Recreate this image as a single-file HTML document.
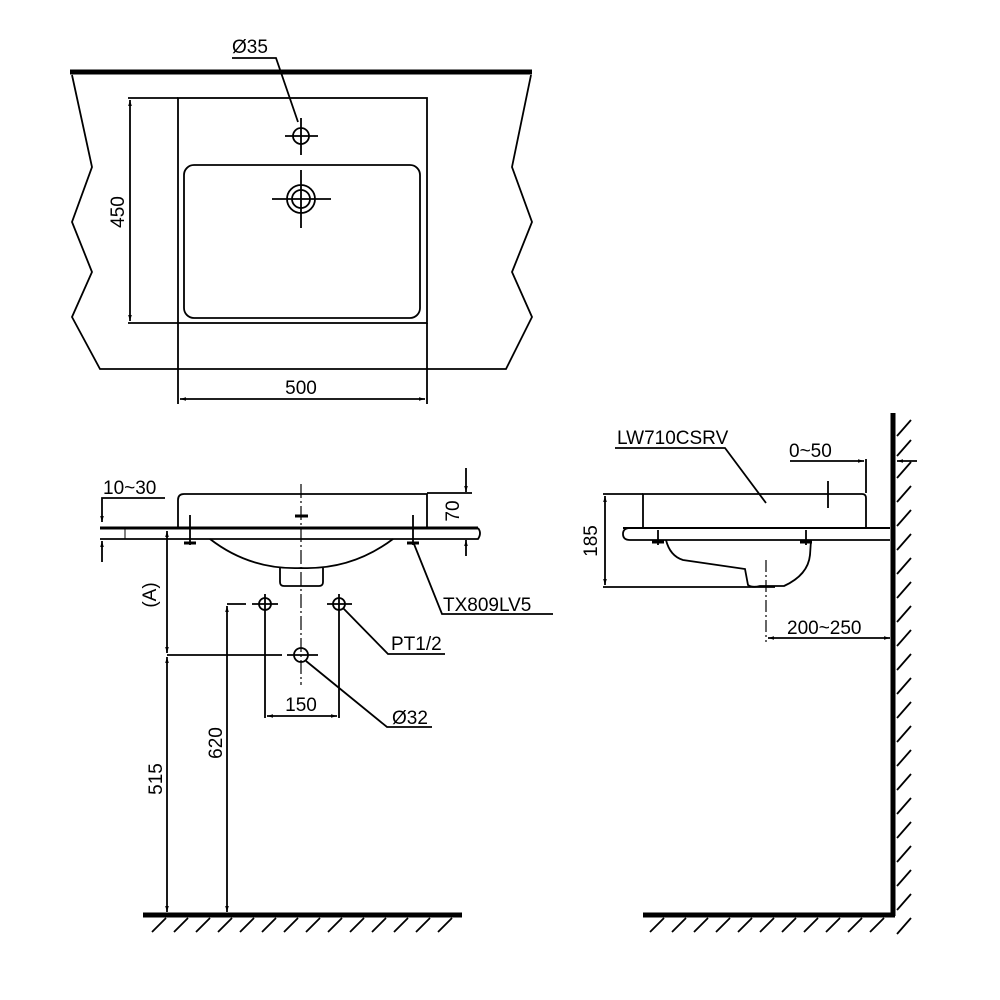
<!DOCTYPE html>
<html><head><meta charset="utf-8"><style>
html,body{margin:0;padding:0;background:#fff}
svg{display:block}
text{font-family:"Liberation Sans",Arial,sans-serif;font-size:19px;fill:#000}
</style></head><body>
<svg width="1000" height="1000" viewBox="0 0 1000 1000" xmlns="http://www.w3.org/2000/svg">
<defs>
<marker id="a" viewBox="0 0 10 10" refX="10" refY="5" markerWidth="8" markerHeight="6" orient="auto-start-reverse" markerUnits="userSpaceOnUse"><path d="M0,2 L10,5 L0,8 z" fill="#000"/></marker>
</defs>
<g stroke="#000" fill="none" stroke-width="1.8">
<!-- TOP VIEW -->
<line x1="70" y1="72" x2="532" y2="72" stroke-width="5"/>
<polyline points="72,75 92,167 72,222 92,272 72,317 100,369 506,369 532,317 512,272 532,222 512,167 531,75"/>
<rect x="178" y="98" width="249" height="225"/>
<line x1="128" y1="98" x2="178" y2="98"/>
<line x1="128" y1="323" x2="178" y2="323"/>
<line x1="130" y1="100" x2="130" y2="321" marker-start="url(#a)" marker-end="url(#a)"/>
<rect x="184" y="165" width="236" height="153" rx="10"/>
<circle cx="301" cy="136" r="8"/>
<line x1="285" y1="136" x2="318" y2="136"/><line x1="301" y1="118" x2="301" y2="155"/>
<polyline points="232,58 276,58 298,122"/>
<circle cx="301" cy="199" r="14"/><circle cx="301" cy="199" r="9"/>
<line x1="272" y1="199" x2="331" y2="199"/><line x1="301" y1="170" x2="301" y2="228"/>
<line x1="178" y1="323" x2="178" y2="404"/><line x1="427" y1="323" x2="427" y2="404"/>
<line x1="180" y1="399" x2="425" y2="399" marker-start="url(#a)" marker-end="url(#a)"/>

<!-- FRONT VIEW -->
<path d="M178,528 V500 Q178,494 184,494 H427 V528"/>
<line x1="100" y1="528" x2="478" y2="528" stroke-width="3"/>
<path d="M100,539 H478 Q482,533 478,528"/>
<line x1="125" y1="528" x2="125" y2="539" stroke-width="1"/>
<path d="M210,539 Q250,570 301,568 Q352,570 393,539"/>
<path d="M280,568 V582 Q280,586 284,586 H319 Q323,586 323,582 V568"/>
<line x1="301" y1="484" x2="301" y2="685" stroke-dasharray="14,3,2,3" stroke-width="1.2"/>
<line x1="295" y1="516" x2="308" y2="516" stroke-width="3"/>
<line x1="190" y1="515" x2="190" y2="545"/><line x1="184" y1="543" x2="196" y2="543" stroke-width="3"/>
<line x1="413" y1="515" x2="413" y2="545"/><line x1="407" y1="543" x2="419" y2="543" stroke-width="3"/>
<polyline points="165,498 102,498 102,522" marker-end="url(#a)"/>
<line x1="102" y1="562" x2="102" y2="541" marker-end="url(#a)"/>
<line x1="427" y1="493" x2="472" y2="493"/>
<line x1="466" y1="468" x2="466" y2="492" marker-end="url(#a)"/>
<line x1="466" y1="556" x2="466" y2="540" marker-end="url(#a)"/>
<polyline points="414,544 442,614 553,614"/>
<line x1="167" y1="531" x2="167" y2="653" marker-start="url(#a)" marker-end="url(#a)"/>
<line x1="167" y1="657" x2="167" y2="912" marker-start="url(#a)" marker-end="url(#a)"/>
<line x1="167" y1="655" x2="282" y2="655"/>
<line x1="287" y1="655" x2="318" y2="655"/>
<circle cx="301" cy="655" r="7"/>
<line x1="227" y1="606" x2="227" y2="912" marker-start="url(#a)" marker-end="url(#a)"/>
<line x1="227" y1="604" x2="246" y2="604"/><line x1="252" y1="604" x2="278" y2="604"/>
<line x1="327" y1="604" x2="352" y2="604"/>
<circle cx="265" cy="604" r="6"/><circle cx="339" cy="604" r="6"/>
<line x1="265" y1="594" x2="265" y2="718"/><line x1="339" y1="594" x2="339" y2="718"/>
<line x1="267" y1="716" x2="337" y2="716" marker-start="url(#a)" marker-end="url(#a)"/>
<polyline points="343,608 388,654 445,654"/>
<polyline points="306,661 387,727 432,727"/>
<line x1="143" y1="915" x2="462" y2="915" stroke-width="5"/>
<path d="M152,932 L166,918 M174,932 L188,918 M196,932 L210,918 M218,932 L232,918 M240,932 L254,918 M262,932 L276,918 M284,932 L298,918 M306,932 L320,918 M328,932 L342,918 M350,932 L364,918 M372,932 L386,918 M394,932 L408,918 M416,932 L430,918 M438,932 L452,918"/>

<!-- SIDE VIEW -->
<line x1="893" y1="413" x2="893" y2="916" stroke-width="5"/>
<line x1="643" y1="915" x2="895" y2="915" stroke-width="5"/>
<path d="M897,436 L911,420 M897,456 L911,440 M897,478 L911,462 M897,502 L911,486 M897,526 L911,510 M897,550 L911,534 M897,574 L911,558 M897,598 L911,582 M897,622 L911,606 M897,646 L911,630 M897,670 L911,654 M897,694 L911,678 M897,718 L911,702 M897,742 L911,726 M897,766 L911,750 M897,790 L911,774 M897,814 L911,798 M897,838 L911,822 M897,862 L911,846 M897,886 L911,870 M897,910 L911,894 M897,934 L911,918"/>
<path d="M650,932 L664,918 M672,932 L686,918 M694,932 L708,918 M716,932 L730,918 M738,932 L752,918 M760,932 L774,918 M782,932 L796,918 M804,932 L818,918 M826,932 L840,918 M848,932 L862,918 M870,932 L884,918"/>
<path d="M643,528 V494 H862 Q866,494 866,498 V528"/>
<line x1="603" y1="494" x2="643" y2="494"/>
<line x1="623" y1="528" x2="890" y2="528" stroke-width="2"/>
<path d="M890,540 H630 Q623,540 623,534 Q623,528 630,528"/>
<path d="M666,540 Q670,556 683,560 L745,569 L748,585 Q752,588 760,586 L784,586 Q808,575 810,555 L811,540"/>
<line x1="658" y1="530" x2="658" y2="545"/><line x1="652" y1="542" x2="664" y2="542" stroke-width="3"/>
<line x1="806" y1="530" x2="806" y2="545"/><line x1="800" y1="542" x2="812" y2="542" stroke-width="3"/>
<line x1="766" y1="560" x2="766" y2="642" stroke-dasharray="12,3,2,3" stroke-width="1.2"/>
<line x1="603" y1="587" x2="775" y2="587"/>
<line x1="605" y1="496" x2="605" y2="585" marker-start="url(#a)" marker-end="url(#a)"/>
<line x1="828" y1="481" x2="828" y2="508"/>
<line x1="790" y1="461" x2="864" y2="461" marker-end="url(#a)"/>
<line x1="866" y1="459" x2="866" y2="493"/>
<line x1="917" y1="461" x2="897" y2="461" marker-end="url(#a)"/>
<polyline points="615,448 725,448 766,503"/>
<line x1="768" y1="638" x2="890" y2="638" marker-start="url(#a)" marker-end="url(#a)"/>
</g>
<text x="232" y="53">Ø35</text>
<text x="124" y="212" transform="rotate(-90 124 212)" text-anchor="middle">450</text>
<text x="301" y="394" text-anchor="middle">500</text>
<text x="103" y="494">10~30</text>
<text x="459" y="511" transform="rotate(-90 459 511)" text-anchor="middle">70</text>
<text x="443" y="611">TX809LV5</text>
<text x="156" y="595" transform="rotate(-90 156 595)" text-anchor="middle">(A)</text>
<text x="391" y="650">PT1/2</text>
<text x="301" y="711" text-anchor="middle">150</text>
<text x="392" y="724">Ø32</text>
<text x="162" y="779" transform="rotate(-90 162 779)" text-anchor="middle">515</text>
<text x="222" y="743" transform="rotate(-90 222 743)" text-anchor="middle">620</text>
<text x="617" y="444">LW710CSRV</text>
<text x="789" y="457">0~50</text>
<text x="597" y="541" transform="rotate(-90 597 541)" text-anchor="middle">185</text>
<text x="787" y="634">200~250</text>
</svg>
</body></html>
